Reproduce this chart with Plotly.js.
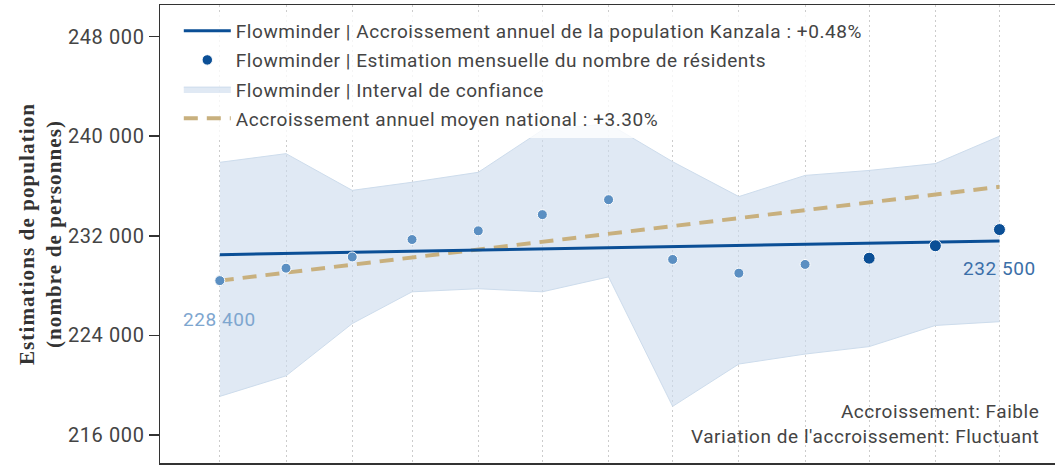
<!DOCTYPE html>
<html>
<head>
<meta charset="utf-8">
<script src="https://cdn.plot.ly/plotly-3.0.1.min.js"></script>
<style>
  html, body { margin: 0; padding: 0; background: #fff; }
  #chart { width: 1055px; height: 465px; }
  .legendtext, .annotation-text { letter-spacing: 0.55px; }
  .ytick text { letter-spacing: 0.6px; }
  .ytitle { letter-spacing: 1.1px; }
</style>
</head>
<body>
<div id="chart"></div>
<script>
// ---- Data ----
const months = ["2022-12-01", "2023-01-01", "2023-02-01", "2023-03-01", "2023-04-01", "2023-05-01",
                "2023-06-01", "2023-07-01", "2023-08-01", "2023-09-01", "2023-10-01", "2023-11-01", "2023-12-01"];
const monthlyEstimates = [228400, 229400, 230300, 231700, 232400, 233700, 234900,
                          230100, 229000, 229700, 230200, 231200, 232500];
const upperBound = [237900, 238600, 235650, 236300, 237100, 240500, 241000,
                    237950, 235150, 236850, 237250, 237800, 240000];
const lowerBound = [219100, 220750, 224950, 227500, 227750, 227500, 228700,
                    218300, 221700, 222500, 223100, 224800, 225100];
const trendDates = ["2022-12-01", "2023-12-01"];
const localTrend = [230480, 231590];      // +0.48 % / year
const nationalTrend = [228400, 235940];   // +3.30 % / year
const yTicks = [216000, 224000, 232000, 240000, 248000];

const names = {
  trend: "Flowminder | Accroissement annuel de la population Kanzala : +0.48%",
  points: "Flowminder | Estimation mensuelle du nombre de résidents",
  band: "Flowminder | Interval de confiance",
  national: "Accroissement annuel moyen national : +3.30%"
};

function fmt(v) { return String(v).replace(/\B(?=(\d{3})+(?!\d))/g, " "); }

const darkBlue = "#0b4f96";
const lightBlue = "#5b8fc2";
const nRecent = 3;
const pointColors = monthlyEstimates.map((v, i) => i >= monthlyEstimates.length - nRecent ? darkBlue : lightBlue);
const pointSizes = monthlyEstimates.map((v, i) => i >= monthlyEstimates.length - nRecent ? 12 : 10);
// draw points newest-first so the legend swatch takes the current (dark) style
const rev = a => a.slice().reverse();

const traces = [
  { x: months, y: lowerBound, type: "scatter", mode: "lines",
    line: { color: "#cddcec", width: 1 }, showlegend: false, hoverinfo: "skip",
    legendgroup: "c", legendrank: 3 },
  { x: months, y: upperBound, type: "scatter", mode: "lines", fill: "tonexty",
    fillcolor: "rgba(203,219,236,0.6)", line: { color: "#cddcec", width: 1 },
    name: names.band, legendgroup: "c", legendrank: 3 },
  { x: trendDates, y: nationalTrend, type: "scatter", mode: "lines",
    line: { color: "#c8b07e", width: 4, dash: "14px,9px" },
    name: names.national, legendgroup: "d", legendrank: 4 },
  { x: trendDates, y: localTrend, type: "scatter", mode: "lines",
    line: { color: darkBlue, width: 3 },
    name: names.trend, legendgroup: "a", legendrank: 1 },
  { x: rev(months), y: rev(monthlyEstimates), type: "scatter", mode: "markers",
    marker: { color: rev(pointColors), size: rev(pointSizes), opacity: 1 },
    name: names.points, legendgroup: "b", legendrank: 2 }
];

const plotLeft = 160;
const plotWidth = 1055 - plotLeft;

const layout = {
  width: 1055, height: 465,
  margin: { l: plotLeft, r: 0, t: 5, b: 2, pad: 0 },
  paper_bgcolor: "#ffffff", plot_bgcolor: "#ffffff",
  separators: ". ",
  font: { family: "Roboto, sans-serif", size: 19, color: "#444" },
  showlegend: true,
  legend: {
    x: 0.021, y: 0.985, xanchor: "left", yanchor: "top",
    bgcolor: "rgba(255,255,255,0.8)", borderwidth: 0,
    font: { family: "Roboto, sans-serif", size: 19, color: "#444" },
    tracegroupgap: 1.5, traceorder: "grouped", itemwidth: 47
  },
  xaxis: {
    type: "date", range: ["2022-11-03", "2023-12-27"],
    showgrid: true, gridcolor: "#cccccc", griddash: "2px,3px", gridwidth: 1,
    tickvals: months, showticklabels: false, ticks: "",
    showline: true, linecolor: "#333", linewidth: 1.5, mirror: true,
    zeroline: false, fixedrange: true
  },
  yaxis: {
    range: [213751, 250538], tickvals: yTicks, ticktext: yTicks.map(fmt),
    showgrid: false, zeroline: false,
    ticks: "outside", ticklen: 10, tickwidth: 1.5, tickcolor: "#333",
    showline: true, linecolor: "#333", linewidth: 1.5, mirror: false,
    tickfont: { family: "Roboto, sans-serif", size: 20, color: "#444" },
    title: {
      text: "Estimations de population<br>(nombre de personnes)",
      font: { family: "Liberation Serif, serif", size: 21, color: "#333", weight: "bold" },
      standoff: 0
    },
    fixedrange: true
  },
  annotations: [
    { x: months[0], y: monthlyEstimates[0], xref: "x", yref: "y",
      text: fmt(monthlyEstimates[0]), showarrow: false, yshift: -39,
      font: { family: "Roboto, sans-serif", size: 19, color: "#7ea6cf" } },
    { x: months[months.length - 1], y: monthlyEstimates[monthlyEstimates.length - 1], xref: "x", yref: "y",
      text: fmt(monthlyEstimates[monthlyEstimates.length - 1]), showarrow: false, yshift: -39,
      font: { family: "Roboto, sans-serif", size: 19, color: "#3b6fa8" } },
    { x: (1041 - plotLeft) / plotWidth, y: 0.028, xref: "paper", yref: "paper",
      xanchor: "right", yanchor: "bottom", align: "right", showarrow: false,
      text: "Accroissement: Faible<br>Variation de l'accroissement: Fluctuant",
      font: { family: "Roboto, sans-serif", size: 19, color: "#444" } }
  ]
};

Plotly.newPlot("chart", traces, layout, { displayModeBar: false, staticPlot: true });
</script>
</body>
</html>
